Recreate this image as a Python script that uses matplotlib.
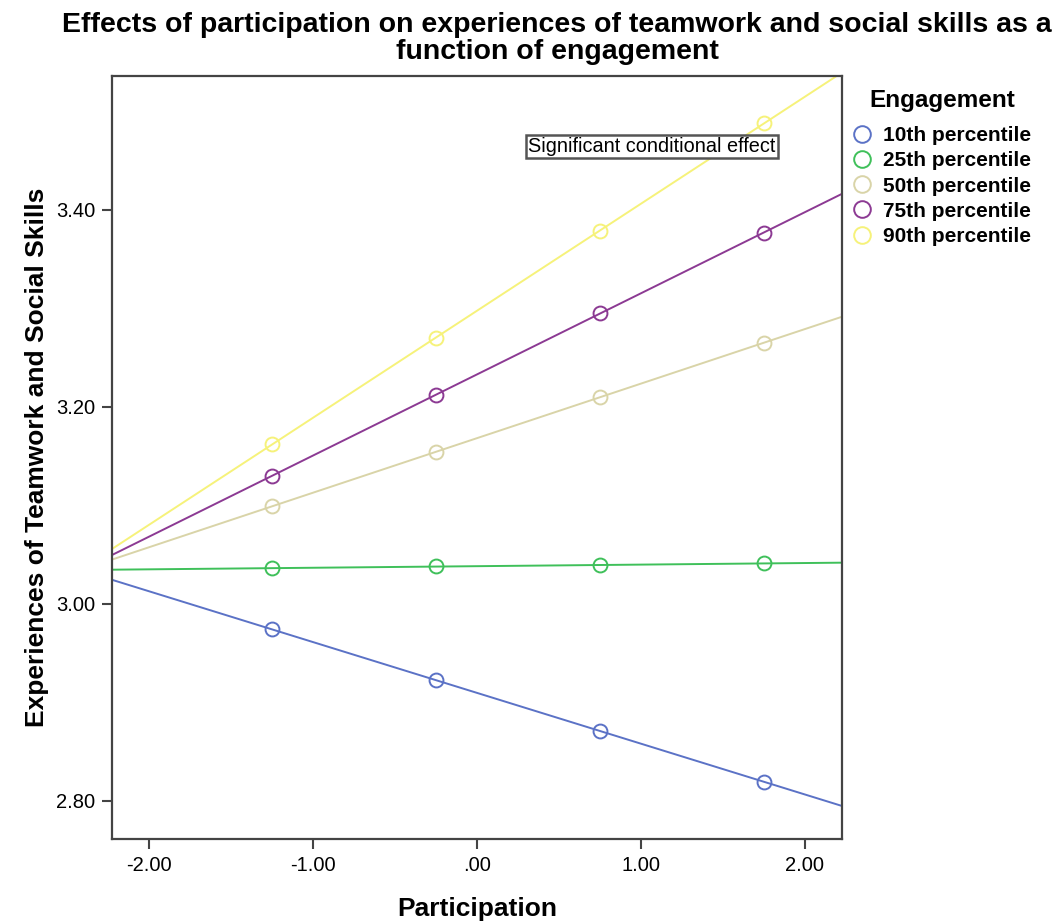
import numpy as np
import matplotlib
matplotlib.use("Agg")
import matplotlib.pyplot as plt

plt.rcParams['font.family'] = ['Liberation Sans', 'DejaVu Sans']

# participation values where the conditional effects are evaluated
participation = [-1.25, -0.25, 0.75, 1.75]

# predicted outcome per engagement level
p10 = [2.974, 2.922, 2.871, 2.819]
p25 = [3.036, 3.038, 3.039, 3.041]
p50 = [3.099, 3.154, 3.210, 3.265]
p75 = [3.130, 3.212, 3.295, 3.377]
p90 = [3.162, 3.270, 3.379, 3.488]

labels = ['10th percentile', '25th percentile', '50th percentile',
          '75th percentile', '90th percentile']
colors = ['#5b72c6', '#3fc05a', '#d9d4a8', '#8c3a93', '#f6f27a']

x_ticks = [-2, -1, 0, 1, 2]
x_tick_labels = ['-2.00', '-1.00', '.00', '1.00', '2.00']
y_ticks = [2.8, 3.0, 3.2, 3.4]
y_tick_labels = ['2.80', '3.00', '3.20', '3.40']

fig = plt.figure(figsize=(10.64, 9.23), dpi=100)
ax = fig.add_axes([0.1053, 0.0910, 0.6861, 0.8267])

xlim = (-2.226, 2.226)
ax.set_xlim(xlim)
ax.set_ylim(2.761, 3.536)

xx = np.array(xlim)
for ys, col, lab in zip([p10, p25, p50, p75, p90], colors, labels):
    # fit line through the conditional effect points
    slope, icept = np.polyfit(participation, ys, 1)
    ax.plot(xx, slope * xx + icept, color=col, lw=1.4, zorder=2)
    ax.plot(participation, ys, linestyle='none', marker='o', ms=10,
            mfc='none', mec=col, mew=1.4, label=lab, zorder=3)

ax.set_xticks(x_ticks)
ax.set_xticklabels(x_tick_labels)
ax.set_yticks(y_ticks)
ax.set_yticklabels(y_tick_labels)
ax.tick_params(axis='both', direction='out', length=7, width=1.5,
               color='#444444', labelsize=14.5, pad=5)

for s in ax.spines.values():
    s.set_color('#444444')
    s.set_linewidth(1.6)

ax.set_xlabel('Participation', fontsize=19, fontweight='bold', labelpad=16)
ax.set_ylabel('Experiences of Teamwork and Social Skills', fontsize=19,
              fontweight='bold', labelpad=5)

fig.text(0.5235, 0.987, 'Effects of participation on experiences of teamwork and social skills as a\nfunction of engagement',
         ha='center', va='top', fontsize=20.5, fontweight='bold', linespacing=1.03)

ax.text(1.067, 3.464, 'Significant conditional effect', ha='center', va='center',
        fontsize=14.3,
        bbox=dict(boxstyle='square,pad=0.1', fc='white', ec='#555555', lw=1.8))

# legend title drawn on its own so the gap above the entries matches
fig.text(942 / 1064, 1 - 100 / 923, 'Engagement', ha='center', va='center',
         fontsize=17.5, fontweight='bold')
leg = ax.legend(loc='upper left', bbox_to_anchor=(0.7925, 0.8725),
                bbox_transform=fig.transFigure, frameon=False,
                handlelength=1.0, handletextpad=0.5, markerscale=1.2,
                labelspacing=0.3, borderaxespad=0,
                prop={'weight': 'bold', 'size': 15})

fig.savefig('out.png', dpi=100)
